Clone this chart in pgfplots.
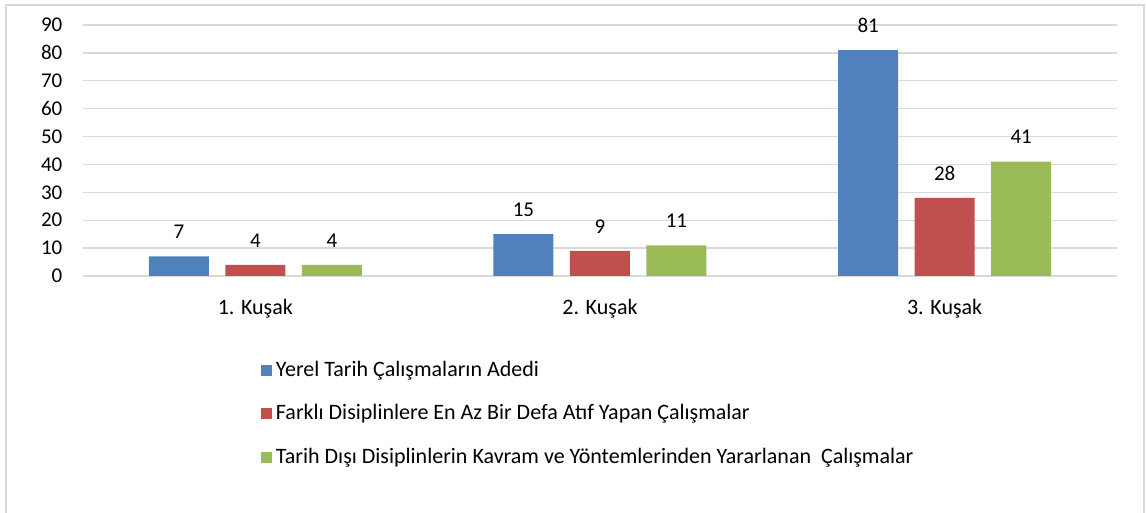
\documentclass[border=0pt]{standalone}
\usepackage{pgfplots}
\pgfplotsset{compat=1.18}
\usepackage{fontspec}
\setmainfont{Carlito}
\definecolor{cblue}{HTML}{4F81BD}
\definecolor{cred}{HTML}{C0504D}
\definecolor{cgreen}{HTML}{9BBB59}
\definecolor{cgrid}{HTML}{D9D9D9}
\begin{document}
\fontsize{21bp}{25bp}\selectfont
\begin{tikzpicture}
\clip (0,0) rectangle (1146bp,513bp);
\draw[cgrid, line width=2bp] (6bp,-10bp) -- (6bp,508bp) -- (1144bp,508bp) -- (1144bp,-10bp);
\begin{axis}[
  at={(83bp,237bp)}, anchor=south west,
  scale only axis, width=1034bp, height=251bp,
  xmin=-0.5, xmax=2.5, ymin=0, ymax=90,
  ytick={0,10,...,90},
  xtick={0,1,2},
  xticklabels={1. Kuşak, 2. Kuşak, 3. Kuşak},
  ymajorgrids,
  major grid style={draw=cgrid, line width=1.3bp},
  axis line style={draw=none},
  tick style={draw=none},
  /pgf/number format/assume math mode=true,
  yticklabel style={font=\fontsize{21bp}{25bp}\selectfont, xshift=-13.5bp},
  xticklabel style={font=\fontsize{22bp}{26bp}\selectfont, yshift=-12bp},
  ybar=16.5bp, bar width=60bp,
  nodes near coords,
  nodes near coords style={font=\fontsize{21bp}{25bp}\selectfont, anchor=south, yshift=10.5bp, text=black},
  legend style={
    at={(0.169,-0.33)}, anchor=north west, draw=none, fill=none,
    font=\fontsize{22bp}{26bp}\selectfont,
    legend cell align=left,
    row sep=25bp,
    nodes={inner xsep=4bp, inner ysep=0pt},
  },
  legend image code/.code={\fill[#1] (0bp,-5.5bp) rectangle (11bp,5.5bp);},
]
\addplot[fill=cblue, draw=none] coordinates {(0,7) (1,15) (2,81)};
\addplot[fill=cred, draw=none] coordinates {(0,4) (1,9) (2,28)};
\addplot[fill=cgreen, draw=none] coordinates {(0,4) (1,11) (2,41)};
\legend{Yerel Tarih Çalışmaların Adedi, Farklı Disiplinlere En Az Bir Defa Atıf Yapan Çalışmalar, Tarih Dışı Disiplinlerin Kavram ve Yöntemlerinden Yararlanan\ \ Çalışmalar}
\end{axis}
\end{tikzpicture}
\end{document}
